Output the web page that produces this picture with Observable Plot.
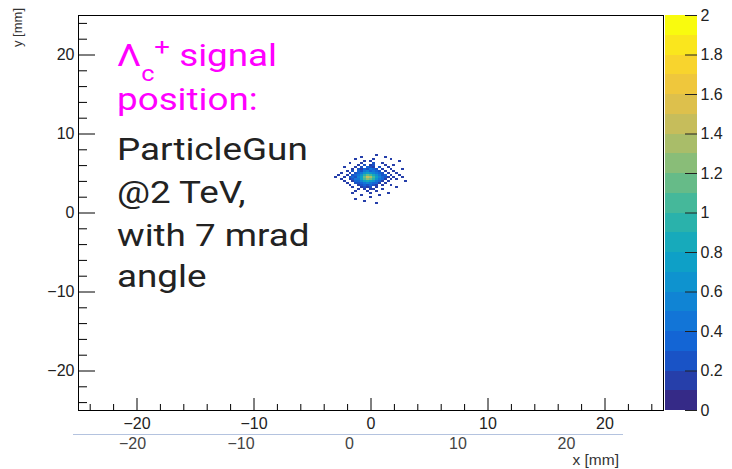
<!DOCTYPE html>
<html><head><meta charset="utf-8">
<script src="https://cdn.jsdelivr.net/npm/d3@7"></script>
<script src="https://cdn.jsdelivr.net/npm/@observablehq/plot@0.6"></script>
<style>
body{margin:0;background:#fff;}
#wrap{position:relative;width:732px;height:469px;overflow:hidden;background:#fff;}
#wrap svg{position:absolute;left:0;top:0;}
</style></head><body><div id="wrap"></div>
<script>
// ---- data ----
const xDomain = [-25, 25];
const yDomain = [-25, 25];
const xMajor = [-20, -10, 0, 10, 20];
const xMinor = [-24, -22, -18, -16, -14, -12, -8, -6, -4, -2, 2, 4, 6, 8, 12, 14, 16, 18, 22, 24];
const yMajor = [-20, -10, 0, 10, 20];
const yMinor = [-24, -22, -18, -16, -14, -12, -8, -6, -4, -2, 2, 4, 6, 8, 12, 14, 16, 18, 22, 24];
const zTicks = [0, 0.2, 0.4, 0.6, 0.8, 1, 1.2, 1.4, 1.6, 1.8, 2];
const zDomain = [0, 2];
const ghostTicks = [-20, -10, 0, 10, 20];
const binW = 0.25, binH = 0.25;
const binX = [-3.0,-2.75,-2.5,-2.25,-2.0,-1.75,-1.5,-1.25,-1.0,-0.75,-0.5,-0.25,0,0.25,0.5,0.75,1.0,1.25,1.5,1.75,2.0,2.25,2.5,2.75,3.0];
const binY = [7.25,7.0,6.75,6.5,6.25,6.0,5.75,5.5,5.25,5.0,4.75,4.5,4.25,4.0,3.75,3.5,3.25,3.0,2.75,2.5,2.25,2.0,1.75,1.5,1.25];
const counts = [
 [0,0,0,0,0,0,0,0,0,0,0,0,0,0,.1,0,0,0,0,0,0,0,0,0,0],
 [0,0,0,0,0,0,0,0,0,.1,0,0,0,0,0,0,0,.1,0,0,0,0,0,0,0],
 [0,0,0,0,0,0,0,.1,0,0,0,0,0,.1,0,0,0,0,0,.1,0,0,0,0,0],
 [0,0,0,0,0,0,0,0,0,0,.1,0,.1,0,0,0,0,0,0,0,0,0,.1,0,0],
 [0,0,0,0,0,.1,0,0,0,.1,0,0,0,.2,0,0,.1,0,0,0,0,0,0,0,0],
 [0,0,0,0,0,0,0,0,.1,0,.2,0,.1,.2,0,0,0,.1,0,0,.1,0,0,0,0],
 [0,0,0,.1,0,0,0,.1,0,.2,0,.3,.2,.1,0,.2,0,0,.1,0,0,0,0,0,0],
 [0,0,0,0,0,0,.1,0,.2,.1,.3,.2,.4,.3,.2,0,.1,0,0,.1,0,0,0,.1,0],
 [0,0,0,0,.1,0,.2,0,.3,.2,.4,.5,.3,.4,.3,.2,0,.1,0,0,.1,0,0,0,0],
 [0,0,.1,0,0,.1,0,.2,.3,.4,.6,.7,.6,.5,.4,.3,.2,0,.1,0,0,.1,0,0,0],
 [0,.1,0,0,.1,0,.2,.3,.4,.6,.9,1.1,1.0,.8,.6,.4,.2,.3,0,.1,0,0,.1,0,0],
 [.1,0,0,.1,0,.2,.3,.2,.5,.7,1.1,1.4,1.3,1.0,.7,.5,.3,.2,.1,0,.1,0,0,.1,0],
 [0,0,.1,0,0,.1,.2,.4,.4,.7,1.0,1.2,1.1,.9,.6,.4,.3,.1,0,.1,0,.1,0,0,0],
 [0,0,0,.1,0,0,.1,.3,.3,.5,.7,.8,.7,.6,.4,.3,.1,0,.1,0,0,0,0,0,.1],
 [0,0,0,0,.1,0,0,.2,.2,.3,.4,.5,.4,.3,.3,.1,0,.1,0,0,0,0,0,0,0],
 [0,0,0,0,0,.1,0,0,.1,.2,.3,.2,.3,.2,.1,0,.1,0,0,.1,0,0,0,0,0],
 [0,0,0,0,0,0,.1,0,0,.1,.2,.1,.2,0,.1,0,0,0,0,0,0,.1,0,0,0],
 [0,0,0,0,0,0,0,0,.1,0,.1,0,.1,.1,0,0,.1,0,0,0,0,0,0,0,0],
 [0,0,0,0,0,0,0,.1,0,0,0,.1,0,0,.1,0,0,0,0,0,0,0,0,0,0],
 [0,0,0,0,0,0,.1,0,0,0,0,0,.1,0,0,0,0,0,.1,0,0,0,0,0,0],
 [0,0,0,0,0,0,0,0,0,.1,0,0,0,0,0,.1,0,0,0,0,0,0,0,0,0],
 [0,0,0,0,0,0,0,0,0,0,0,0,.1,0,0,0,0,0,0,0,0,0,0,0,0],
 [0,0,0,0,0,0,0,.1,0,0,0,0,0,0,0,0,0,0,0,0,0,0,0,0,0],
 [0,0,0,0,0,0,0,0,0,0,.1,0,0,0,0,0,0,0,0,0,0,0,0,0,0],
 [0,0,0,0,0,0,0,0,0,0,0,0,0,0,.1,0,0,0,0,0,0,0,0,0,0]
];
const noteMagenta = ["position:"];
const noteBlack = ["ParticleGun", "@2 TeV,", "with 7 mrad", "angle"];
const xLabel = "x [mm]";
const yLabel = "y [mm]";

// ---- palette (ROOT kBird) ----
const birdR = [0.2082,0.0592,0.0780,0.0232,0.1802,0.5301,0.8186,0.9956,0.9764];
const birdG = [0.1664,0.3599,0.5041,0.6419,0.7178,0.7492,0.7328,0.7862,0.9832];
const birdB = [0.5293,0.8684,0.8385,0.7914,0.6425,0.4662,0.3499,0.1968,0.0539];
const bird = d3.interpolateRgbBasis(birdR.map((r,i)=>d3.rgb(r*255,birdG[i]*255,birdB[i]*255).formatHex()));
const nCont = 20;
const thresholds = d3.range(1, nCont).map(i => zDomain[0] + i*(zDomain[1]-zDomain[0])/nCont);
const palette = d3.range(nCont).map(i => bird(i/(nCont-1)));
const colorOpts = {type:"threshold", domain: thresholds, range: palette};

const cells = [];
counts.forEach((row, r) => row.forEach((v, c) => { if (v > 0) cells.push({x: binX[c], y: binY[r], v}); }));
const bands = d3.range(nCont).map(i => ({lo: zDomain[0] + i*(zDomain[1]-zDomain[0])/nCont, hi: zDomain[0] + (i+1)*(zDomain[1]-zDomain[0])/nCont}));

const W = 732, H = 469;
const FONT = "'Liberation Sans', Arial, Helvetica, sans-serif";
const wrap = document.getElementById("wrap");
const minus = d => d < 0 ? "\u2212" + (-d) : String(d);

// ghost (duplicated) axis beneath
const ghost = Plot.plot({
  width: W, height: H, marginLeft: 73, marginRight: 109, marginTop: 15, marginBottom: 35,
  style: {fontFamily: FONT, fontSize: "16px", color: "#444", background: "transparent"},
  x: {domain: [-20, 20], range: [132, 566]},
  y: {domain: [0, 1], axis: null},
  marks: [
    Plot.ruleY([0], {stroke: "#b4c3df", strokeWidth: 1}),
    Plot.axisX(ghostTicks, {tickSize: 0, tickPadding: 3, label: null, tickFormat: minus})
  ]
});
wrap.appendChild(ghost);
d3.select(ghost).append("text").attr("x", 619).attr("y", 465).attr("text-anchor", "end")
  .attr("font-family", FONT).attr("font-size", 15.5).attr("fill", "#333").text(xLabel);

// main histogram
const main = Plot.plot({
  width: W, height: H, marginLeft: 78, marginRight: 69, marginTop: 15, marginBottom: 59,
  style: {fontFamily: FONT, fontSize: "16px", color: "#222", background: "transparent"},
  x: {domain: xDomain},
  y: {domain: yDomain},
  color: colorOpts,
  marks: [
    Plot.rect(cells, {x1: d => d.x - binW/2, x2: d => d.x + binW/2, y1: d => d.y - binH/2, y2: d => d.y + binH/2, fill: "v", shapeRendering: "crispEdges"}),
    Plot.tickX(xMinor, {x: d => d, insetTop: 395 - 6, stroke: "#000"}),
    Plot.tickX(xMajor, {x: d => d, insetTop: 395 - 12, stroke: "#000"}),
    Plot.tickY(yMinor, {y: d => d, insetRight: 585 - 9, stroke: "#000"}),
    Plot.tickY(yMajor, {y: d => d, insetRight: 585 - 17, stroke: "#000"}),
    Plot.axisX(xMajor, {tickSize: 0, tickPadding: 7, label: null, tickFormat: minus}),
    Plot.axisY(yMajor, {tickSize: 0, tickPadding: 4, label: null, tickFormat: minus}),
    Plot.frame({stroke: "#000", strokeWidth: 1})
  ]
});
wrap.appendChild(main);
const ms = d3.select(main);
ms.append("text").attr("transform", "translate(22,8) rotate(-90)").attr("text-anchor", "end")
  .attr("font-family", FONT).attr("font-size", 13).attr("fill", "#333").text(yLabel);

// annotation (the reference text is stretched horizontally)
const NOTE_FONT = "Roboto, 'Noto Sans', sans-serif";
const SX = 1.15;
const note = ms.append("g").attr("transform", `translate(117,0) scale(${SX},1)`)
  .attr("font-family", NOTE_FONT).attr("font-size", 32).attr("text-anchor", "start");
const t1 = note.append("text").attr("x", 0).attr("y", 66).attr("fill", "#ff00ff");
t1.append("tspan").text("\u039B");
t1.append("tspan").attr("dy", 15).attr("font-size", 22).text("c");
t1.append("tspan").attr("dy", -26).attr("font-size", 24).text("+");
t1.append("tspan").attr("dy", 11).text(" signal");
const baseMag = [110];
noteMagenta.forEach((s, i) => note.append("text").attr("x", 0).attr("y", baseMag[i]).attr("fill", "#ff00ff").text(s));
const baseBlk = [160, 203, 246, 287];
noteBlack.forEach((s, i) => note.append("text").attr("x", 0).attr("y", baseBlk[i]).attr("fill", "#222").text(s));

// colour bar
const bar = Plot.plot({
  width: W, height: H, marginLeft: 665, marginRight: 35, marginTop: 15, marginBottom: 59,
  style: {fontFamily: FONT, fontSize: "16px", color: "#222", background: "transparent"},
  y: {domain: zDomain},
  color: colorOpts,
  marks: [
    Plot.rect(bands, {y1: "lo", y2: "hi", fill: d => (d.lo + d.hi)/2, shapeRendering: "crispEdges"}),
    Plot.tickY(zTicks, {y: d => d, insetLeft: 20, stroke: "#222"}),
    Plot.axisY(zTicks, {anchor: "right", tickSize: 0, tickPadding: 3, label: null, tickFormat: d => String(d)})
  ]
});
wrap.appendChild(bar);
</script>
</body></html>
